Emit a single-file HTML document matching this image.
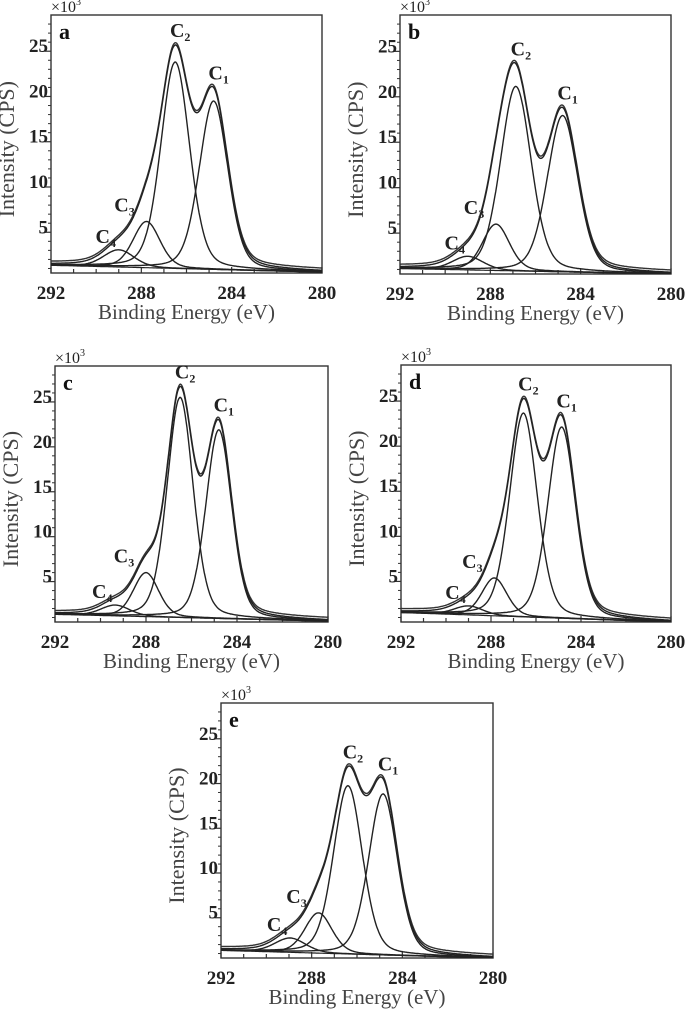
<!DOCTYPE html>
<html><head><meta charset="utf-8">
<style>
html,body{margin:0;padding:0;background:#fff;}
svg{display:block;font-family:"Liberation Serif",serif;}
</style></head>
<body>
<svg id="fig" width="685" height="1010" viewBox="0 0 685 1010" xmlns="http://www.w3.org/2000/svg"></svg>
<script>
// ---- data (intensities in 10^3 CPS, energies in eV) ----
const panelLetters = ['a','b','c','d','e'];
const c1Center = [284.8, 284.8, 284.8, 284.86, 284.85];
const c2Center = [286.5, 286.87, 286.5, 286.56, 286.4];
const c3Center = [287.77, 287.75, 288.0, 287.85, 287.7];
const c4Center = [289.0, 289.0, 289.35, 289.0, 288.95];
const c1Height = [18.6, 17.2, 21.0, 21.2, 18.0];
const c2Height = [22.8, 20.3, 24.5, 22.6, 18.8];
const c3Height = [5.1, 5.1, 4.9, 4.2, 4.5];
const c4Height = [1.9, 1.5, 1.2, 1.0, 1.6];
const c1Width = [1.5, 1.6, 1.35, 1.45, 1.5];
const c2Width = [1.5, 1.6, 1.35, 1.45, 1.5];
const c3Width = [1.4, 1.4, 1.3, 1.3, 1.4];
const c4Width = [1.6, 1.6, 1.5, 1.5, 1.6];
const bgHigh = [1.35, 1.1, 1.35, 1.55, 1.35];
const bgLow = [0.6, 0.5, 0.6, 0.5, 0.5];
const xTicks = [292, 288, 284, 280];
const yTicks = [5, 10, 15, 20, 25];
const xDomain = [292, 280];
const yDomain = [0.5, 29];

// layout (pixel frames for each panel)
const frames = [
  {l:51, t:15, w:271, h:258},
  {l:400, t:15, w:271, h:259},
  {l:55, t:366, w:273, h:256},
  {l:401, t:365, w:270, h:257},
  {l:221, t:703, w:272, h:255}
];

const NS = 'http://www.w3.org/2000/svg';
const svg = document.getElementById('fig');
function mk(tag, attrs, parent){
  const e = document.createElementNS(NS, tag);
  for (const k in attrs) e.setAttribute(k, attrs[k]);
  (parent||svg).appendChild(e);
  return e;
}
function pv(x, c, h, w){
  const d = (x - c) / w;
  return h * (0.75 * Math.exp(-4 * Math.LN2 * d * d) + 0.25 / (1 + 4 * d * d));
}

panelLetters.forEach((letter, i) => {
  const f = frames[i];
  const g = mk('g', {});
  
  
  const X = v => f.l + (v - xDomain[0]) / (xDomain[1] - xDomain[0]) * f.w;
  const Y = v => f.t + f.h - (v - yDomain[0]) / (yDomain[1] - yDomain[0]) * f.h;
  const bg = x => bgLow[i] + (bgHigh[i] - bgLow[i]) * (x - 280) / 12;
  const comps = [
    [c1Center[i], c1Height[i], c1Width[i]],
    [c2Center[i], c2Height[i], c2Width[i]],
    [c3Center[i], c3Height[i], c3Width[i]],
    [c4Center[i], c4Height[i], c4Width[i]]
  ];
  const clip = mk('clipPath', {id:'clip' + i}, g);
  mk('rect', {x:f.l, y:f.t, width:f.w, height:f.h}, clip);

  const fr = mk('rect', {x:f.l, y:f.t, width:f.w, height:f.h, fill:'none', stroke:'#333', 'stroke-width':1.4}, g);
  
  

  for (let v = 292; v >= 280; v--) {
    const major = xTicks.includes(v);
    mk('line', {x1:X(v), x2:X(v), y1:f.t+f.h, y2:f.t+f.h-(major?6:4), stroke:'#333', 'stroke-width':1.2}, g);
  }
  xTicks.forEach(v => {
    const t = mk('text', {x:X(v), y:f.t+f.h+26, 'text-anchor':'middle', 'font-size':19, 'font-weight':'bold', fill:'#222'}, g);
    t.textContent = v;
    
    
  });
  for (let v = 1; v <= 28; v++) {
    const major = yTicks.includes(v);
    if (major) mk('line', {x1:f.l-6, x2:f.l, y1:Y(v), y2:Y(v), stroke:'#333', 'stroke-width':1.2}, g);
    else mk('line', {x1:f.l, x2:f.l-3, y1:Y(v), y2:Y(v), stroke:'#333', 'stroke-width':1}, g);
  }
  yTicks.forEach(v => {
    const t = mk('text', {x:f.l-3, y:Y(v)+1, 'text-anchor':'end', 'font-size':19, 'font-weight':'bold', fill:'#222'}, g);
    t.textContent = v;
    
    
  });
  const mult = mk('text', {x:f.l, y:f.t-3, 'font-size':16, fill:'#222'}, g);
  mult.innerHTML = '×10<tspan dy="-7" font-size="10">3</tspan>';
  
  

  const xt = mk('text', {x:f.l+f.w/2, y:f.t+f.h+46, 'text-anchor':'middle', 'font-size':21, fill:'#444'}, g);
  xt.textContent = 'Binding Energy (eV)';
  
  
  const yc = f.t + f.h * 0.52;
  const yt = mk('text', {x:0, y:0, transform:'translate(' + (f.l-37) + ',' + yc + ') rotate(-90)', 'text-anchor':'middle', 'font-size':22, fill:'#444'}, g);
  yt.textContent = 'Intensity (CPS)';
  
  

  const pl = mk('text', {x:f.l+8, y:f.t+24, 'font-size':22, 'font-weight':'bold', fill:'#111'}, g);
  pl.textContent = letter;
  
  

  const cg = mk('g', {'clip-path':'url(#clip' + i + ')', fill:'none'}, g);
  const N = 300;
  function path(fn){
    let d = '';
    for (let k = 0; k <= N; k++) {
      const x = 292 - 12 * k / N;
      d += (k ? 'L' : 'M') + X(x).toFixed(1) + ',' + Y(fn(x)).toFixed(1);
    }
    return d;
  }
  const bgp = mk('path', {d:path(bg), stroke:'#222', 'stroke-width':1.2}, cg);
  
  
  comps.forEach((c, j) => {
    const p = mk('path', {d:path(x => bg(x) + pv(x, c[0], c[1], c[2])), stroke:'#222', 'stroke-width':1.4}, cg);
    
    
  });
  const env = x => bg(x) + comps.reduce((s, c) => s + pv(x, c[0], c[1], c[2]), 0);
  const e1 = mk('path', {d:path(x => env(x) + 0.25), stroke:'#333', 'stroke-width':1.4}, cg);
  
  
  const e2 = mk('path', {d:path(env), stroke:'#222', 'stroke-width':1.4}, cg);
  
  

  function lab(n, x, y){
    const t = mk('text', {x:x, y:y, 'text-anchor':'middle', 'font-size':20, 'font-weight':'bold', fill:'#222'}, g);
    t.innerHTML = 'C<tspan dy="4" font-size="12">' + n + '</tspan>';
    
    
  }
  lab(2, X(c2Center[i]) + 5, Y(env(c2Center[i])) - 8);
  lab(1, X(c1Center[i]) + 5, Y(env(c1Center[i])) - 8);
  lab(3, X(c3Center[i]) - 22, Y(bg(c3Center[i]) + c3Height[i]) - 10);
  lab(4, X(c4Center[i]) - 13, Y(bg(c4Center[i]) + c4Height[i]) - 7);
});
</script>
</body></html>
